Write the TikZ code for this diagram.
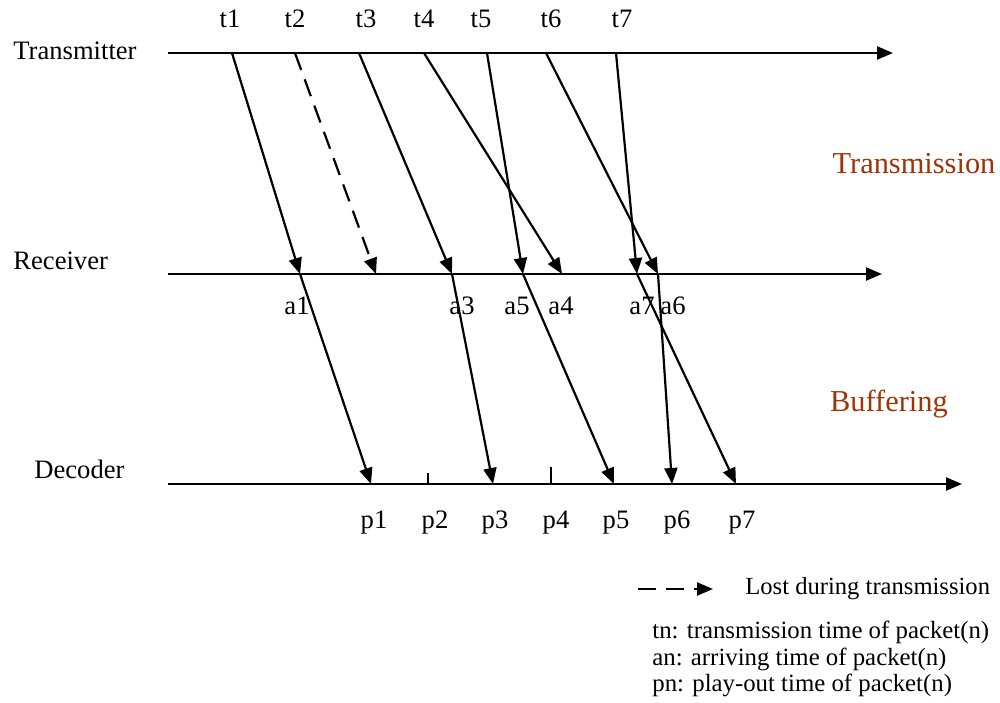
\documentclass[tikz,border=0pt]{standalone}
\usepackage{fontspec}
\setmainfont{Liberation Serif}
\usetikzlibrary{arrows.meta}
\usetikzlibrary{math}
\definecolor{tred}{RGB}{160,52,8}

\begin{document}
\begin{tikzpicture}[x=0.5pt,y=-0.5pt,
  timeline/.style={line width=1.2pt,-{Triangle[length=8pt,width=6.5pt]}},
  packet/.style={line width=1.1pt,-{Triangle[length=8pt,width=6.5pt]}},
  lost/.style={packet,dash pattern=on 9pt off 5pt},
  lbl/.style={font=\fontsize{13.3}{15}\selectfont,inner sep=0pt},
  phase/.style={font=\fontsize{15.2}{17}\selectfont,text=tred,inner sep=0pt}]
\useasboundingbox (0,0) rectangle (1000,702);
\tikzmath{
\yT=53;
\yR=274;
\yD=484;
}

%axes:
 \coordinate (T0) at (168,\yT); \coordinate (Tend) at (893,\yT);
 \coordinate (R0) at (168,\yR); \coordinate (Rend) at (882,\yR);
 \coordinate (D0) at (168,\yD); \coordinate (Dend) at (962,\yD);
 \draw[timeline] (T0) -- (Tend);
 \draw[timeline] (R0) -- (Rend);
 \draw[timeline] (D0) -- (Dend);
 \node[lbl,anchor=west] (transmitter) at (13,51) {Transmitter};
 \node[lbl,anchor=west] (receiver) at (13,261) {Receiver};
 \node[lbl,anchor=west] (decoder) at (34,469) {Decoder};

%sending times
 \foreach \n/\x/\lx in {1/232/230,2/295/295,3/359/366,4/424/424,5/487/481,6/546/551,7/616/622}{
  \coordinate (t\n) at (\x,\yT);
  \node[lbl] (tl\n) at (\lx,19) {t\n};
 }
%arrival times
 \foreach \n/\x/\lx in {1/300/297,3/452/462,5/523/517,4/562/561,7/637/642,6/658/673}{
  \coordinate (a\n) at (\x,\yR);
  \node[lbl] (al\n) at (\lx,306) {a\n};
 }
 \coordinate (a2) at (376,\yR);
%play-out times
 \foreach \n/\x/\lx in {1/371/374,2/428/435,3/493/495,4/551/556,5/614/616,6/672/677,7/736/742}{
  \coordinate (p\n) at (\x,\yD);
  \node[lbl] (pl\n) at (\lx,523) {p\n};
 }

%transmission
 \foreach \n in {1,3,4,5,6,7}{
  \draw[packet] (t\n) -- (a\n);
 }
 \draw[lost] (t2) -- (a2);
%buffering
 \foreach \n in {1,3,5,6,7}{
  \draw[packet] (a\n) -- (p\n);
 }
 \draw[line width=1.1pt] (p2) -- +(0,-11);
 \draw[line width=1.1pt] (p4) -- +(0,-17);

 \node[phase] (transmission) at (914,164) {Transmission};
 \node[phase] (buffering) at (889,404) {Buffering};

%legend
 \coordinate (leg0) at (638,589); \coordinate (leg1) at (713,589);
 \draw[lost] (leg0) -- (leg1);
 \node[lbl,anchor=west,font=\fontsize{12.3}{14}\selectfont] (lostlbl) at (745,589) {Lost during transmission};
 \node[lbl,anchor=north west,align=left,font=\fontsize{12.4}{13.2}\selectfont] (key) at (652,621)
  {tn: transmission time of packet(n)\\an: arriving time of packet(n)\\pn: play-out time of packet(n)};
\end{tikzpicture}
\end{document}
